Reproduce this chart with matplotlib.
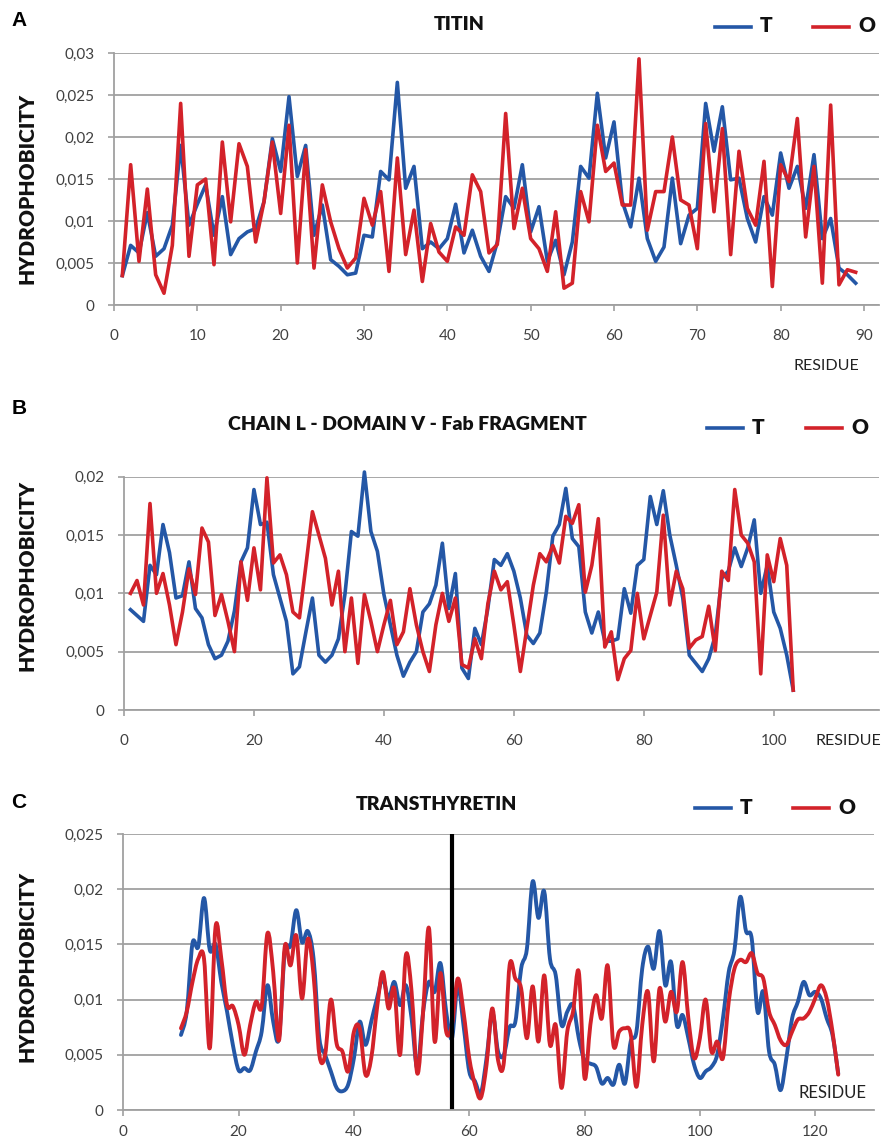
import matplotlib
matplotlib.use('Agg')
import matplotlib.pyplot as plt
import numpy as np
from matplotlib.path import Path
from matplotlib.patches import PathPatch
from matplotlib.lines import Line2D

W, H = 893, 1145
BLUE = '#2457a6'
RED = '#d3222a'
GRID = '#a0a0a0'
TXT = '#404040'
FONT = ['Lato', 'DejaVu Sans']

# ---- A: TITIN (residues 1..89)
titin_res = np.arange(1, 90)
titin_t = [0.0035, 0.0071, 0.0062, 0.0110, 0.0058, 0.0067, 0.0095, 0.0190, 0.0095, 0.0120,
           0.0143, 0.0083, 0.0129, 0.0060, 0.0079, 0.0087, 0.0091, 0.0123, 0.0198, 0.0159,
           0.0248, 0.0153, 0.0190, 0.0083, 0.0119, 0.0054, 0.0046, 0.0036, 0.0038, 0.0083,
           0.0081, 0.0159, 0.0149, 0.0265, 0.0139, 0.0165, 0.0067, 0.0075, 0.0067, 0.0079,
           0.0120, 0.0062, 0.0089, 0.0058, 0.0040, 0.0075, 0.0129, 0.0115, 0.0167, 0.0087,
           0.0117, 0.0052, 0.0077, 0.0036, 0.0075, 0.0165, 0.0151, 0.0252, 0.0175, 0.0218,
           0.0123, 0.0093, 0.0151, 0.0079, 0.0052, 0.0069, 0.0151, 0.0073, 0.0107, 0.0115,
           0.0240, 0.0183, 0.0236, 0.0149, 0.0151, 0.0103, 0.0075, 0.0129, 0.0107, 0.0181,
           0.0139, 0.0165, 0.0115, 0.0179, 0.0079, 0.0103, 0.0044, 0.0036, 0.0026]
titin_o = [0.0035, 0.0167, 0.0052, 0.0138, 0.0036, 0.0014, 0.0071, 0.0240, 0.0058, 0.0143,
           0.0150, 0.0048, 0.0194, 0.0099, 0.0192, 0.0165, 0.0075, 0.0123, 0.0194, 0.0109,
           0.0214, 0.0050, 0.0185, 0.0044, 0.0143, 0.0099, 0.0067, 0.0044, 0.0056, 0.0127,
           0.0095, 0.0135, 0.0040, 0.0175, 0.0060, 0.0113, 0.0028, 0.0097, 0.0063, 0.0052,
           0.0093, 0.0083, 0.0155, 0.0135, 0.0062, 0.0072, 0.0228, 0.0091, 0.0139, 0.0079,
           0.0067, 0.0040, 0.0111, 0.0020, 0.0026, 0.0135, 0.0099, 0.0214, 0.0159, 0.0169,
           0.0119, 0.0119, 0.0293, 0.0089, 0.0135, 0.0135, 0.0200, 0.0125, 0.0119, 0.0067,
           0.0216, 0.0111, 0.0210, 0.0060, 0.0183, 0.0115, 0.0095, 0.0171, 0.0022, 0.0167,
           0.0147, 0.0222, 0.0081, 0.0165, 0.0026, 0.0238, 0.0024, 0.0042, 0.0039]

# ---- B: CHAIN L - DOMAIN V - Fab FRAGMENT (residues 1..103)
fab_res = np.arange(1, 104)
fab_t = [0.0086, 0.0081, 0.0076, 0.0124, 0.0116, 0.0159, 0.0135, 0.0096, 0.0098, 0.0127,
         0.0087, 0.0079, 0.0056, 0.0044, 0.0047, 0.0059, 0.0085, 0.0127, 0.0139, 0.0189,
         0.0159, 0.0161, 0.0116, 0.0096, 0.0076, 0.0031, 0.0037, 0.0067, 0.0096, 0.0047,
         0.0041, 0.0047, 0.0061, 0.0099, 0.0153, 0.0149, 0.0204, 0.0153, 0.0136, 0.0099,
         0.0073, 0.0047, 0.0029, 0.0041, 0.0050, 0.0084, 0.0091, 0.0107, 0.0143, 0.0087,
         0.0117, 0.0036, 0.0027, 0.0070, 0.0056, 0.0087, 0.0129, 0.0124, 0.0134, 0.0119,
         0.0096, 0.0064, 0.0057, 0.0066, 0.0101, 0.0149, 0.0159, 0.0190, 0.0147, 0.0140,
         0.0084, 0.0066, 0.0084, 0.0059, 0.0059, 0.0061, 0.0104, 0.0083, 0.0124, 0.0129,
         0.0183, 0.0159, 0.0188, 0.0150, 0.0124, 0.0096, 0.0047, 0.0040, 0.0033, 0.0044,
         0.0064, 0.0113, 0.0119, 0.0139, 0.0123, 0.0139, 0.0163, 0.0100, 0.0124, 0.0084,
         0.0070, 0.0047, 0.0017]
fab_o = [0.0100, 0.0111, 0.0090, 0.0177, 0.0100, 0.0117, 0.0090, 0.0056, 0.0084, 0.0121,
         0.0099, 0.0156, 0.0144, 0.0081, 0.0099, 0.0076, 0.0050, 0.0127, 0.0094, 0.0139,
         0.0103, 0.0199, 0.0126, 0.0133, 0.0116, 0.0084, 0.0079, 0.0124, 0.0170, 0.0150,
         0.0130, 0.0090, 0.0119, 0.0050, 0.0096, 0.0040, 0.0099, 0.0076, 0.0050, 0.0073,
         0.0094, 0.0056, 0.0067, 0.0104, 0.0073, 0.0050, 0.0033, 0.0073, 0.0100, 0.0076,
         0.0096, 0.0039, 0.0036, 0.0061, 0.0044, 0.0091, 0.0119, 0.0103, 0.0110, 0.0073,
         0.0033, 0.0070, 0.0107, 0.0134, 0.0127, 0.0141, 0.0126, 0.0166, 0.0160, 0.0176,
         0.0101, 0.0124, 0.0164, 0.0054, 0.0067, 0.0026, 0.0044, 0.0051, 0.0100, 0.0061,
         0.0081, 0.0101, 0.0167, 0.0090, 0.0119, 0.0104, 0.0053, 0.0060, 0.0063, 0.0089,
         0.0051, 0.0119, 0.0111, 0.0189, 0.0150, 0.0143, 0.0127, 0.0031, 0.0133, 0.0110,
         0.0147, 0.0124, 0.0017]

# ---- C: TRANSTHYRETIN (residues 10..124)
ttr_res = np.arange(10, 125)
ttr_t = [0.0068, 0.0089, 0.0151, 0.0148, 0.0192, 0.0145, 0.0150, 0.0116, 0.0089, 0.0059,
         0.0036, 0.0038, 0.0036, 0.0053, 0.0071, 0.0113, 0.0080, 0.0065, 0.0143, 0.0149,
         0.0181, 0.0152, 0.0162, 0.0137, 0.0065, 0.0050, 0.0035, 0.0020, 0.0017, 0.0023,
         0.0047, 0.0080, 0.0059, 0.0080, 0.0101, 0.0119, 0.0101, 0.0116, 0.0095, 0.0113,
         0.0083, 0.0038, 0.0089, 0.0116, 0.0107, 0.0133, 0.0089, 0.0065, 0.0113, 0.0077,
         0.0035, 0.0026, 0.0015, 0.0047, 0.0088, 0.0053, 0.0050, 0.0075, 0.0080, 0.0128,
         0.0146, 0.0207, 0.0174, 0.0198, 0.0137, 0.0122, 0.0077, 0.0089, 0.0095, 0.0065,
         0.0045, 0.0042, 0.0039, 0.0024, 0.0029, 0.0023, 0.0041, 0.0024, 0.0062, 0.0071,
         0.0128, 0.0148, 0.0128, 0.0162, 0.0113, 0.0134, 0.0077, 0.0086, 0.0065, 0.0041,
         0.0029, 0.0035, 0.0039, 0.0050, 0.0083, 0.0125, 0.0145, 0.0193, 0.0162, 0.0155,
         0.0089, 0.0107, 0.0053, 0.0041, 0.0018, 0.0047, 0.0083, 0.0098, 0.0116, 0.0104,
         0.0107, 0.0101, 0.0083, 0.0068, 0.0033]
ttr_o = [0.0074, 0.0089, 0.0116, 0.0137, 0.0137, 0.0056, 0.0166, 0.0137, 0.0095, 0.0094,
         0.0077, 0.0050, 0.0077, 0.0098, 0.0094, 0.0160, 0.0125, 0.0063, 0.0148, 0.0131,
         0.0158, 0.0101, 0.0155, 0.0122, 0.0050, 0.0050, 0.0100, 0.0060, 0.0053, 0.0035,
         0.0071, 0.0074, 0.0032, 0.0047, 0.0092, 0.0125, 0.0092, 0.0110, 0.0050, 0.0140,
         0.0107, 0.0033, 0.0089, 0.0165, 0.0062, 0.0124, 0.0071, 0.0077, 0.0119, 0.0089,
         0.0047, 0.0023, 0.0011, 0.0041, 0.0092, 0.0045, 0.0043, 0.0131, 0.0119, 0.0110,
         0.0065, 0.0112, 0.0062, 0.0122, 0.0059, 0.0077, 0.0020, 0.0071, 0.0089, 0.0125,
         0.0029, 0.0077, 0.0104, 0.0083, 0.0131, 0.0059, 0.0071, 0.0074, 0.0069, 0.0021,
         0.0077, 0.0107, 0.0044, 0.0110, 0.0080, 0.0107, 0.0089, 0.0134, 0.0083, 0.0047,
         0.0065, 0.0100, 0.0053, 0.0062, 0.0047, 0.0098, 0.0128, 0.0136, 0.0134, 0.0142,
         0.0124, 0.0119, 0.0089, 0.0077, 0.0063, 0.0059, 0.0071, 0.0082, 0.0083, 0.0089,
         0.0101, 0.0113, 0.0101, 0.0071, 0.0032]
ttr_marker = 57


def fx(x):
    return x / W


def fy(y):
    return 1 - y / H


def smooth_path(x, y):
    # excel style smoothed line: catmull-rom turned into cubic bezier segments
    x = np.asarray(x, float)
    y = np.asarray(y, float)
    px = np.concatenate([[x[0]], x, [x[-1]]])
    py = np.concatenate([[y[0]], y, [y[-1]]])
    verts = [(x[0], y[0])]
    codes = [Path.MOVETO]
    for i in range(1, len(px) - 2):
        c1 = (px[i] + (px[i + 1] - px[i - 1]) / 6, py[i] + (py[i + 1] - py[i - 1]) / 6)
        c2 = (px[i + 1] - (px[i + 2] - px[i]) / 6, py[i + 1] - (py[i + 2] - py[i]) / 6)
        verts += [c1, c2, (px[i + 1], py[i + 1])]
        codes += [Path.CURVE4] * 3
    return Path(verts, codes)


def comma_fmt(v, pos=None):
    if abs(v) < 1e-12:
        return '0'
    return f'{v:g}'.replace('.', ',')


def setup_axes(rect, xmax, xticks, ymax, xpad=13):
    ax = fig.add_axes(rect)
    ax.set_xlim(0, xmax)
    ax.set_ylim(0, ymax)
    ax.set_xticks(xticks)
    ax.set_yticks(np.arange(0, ymax + 1e-9, 0.005))
    ax.yaxis.set_major_formatter(plt.FuncFormatter(comma_fmt))
    ax.grid(True, axis='y', color=GRID, lw=1.3)
    ax.set_axisbelow(True)
    for s in ['top', 'right']:
        ax.spines[s].set_visible(False)
    for s in ['left', 'bottom']:
        ax.spines[s].set_color(GRID)
        ax.spines[s].set_linewidth(1.3)
    ax.tick_params(axis='y', length=4, width=1.2, color=GRID, pad=10,
                   labelsize=11, labelcolor=TXT)
    ax.tick_params(axis='x', length=4, width=1.2, color=GRID, pad=xpad,
                   labelsize=11, labelcolor=TXT)
    for lab in ax.get_xticklabels() + ax.get_yticklabels():
        lab.set_family(FONT)
    return ax


def legend_and_labels(letter, lpos, title, tpos, leg_y, t_x0, o_x0, ylab_y):
    fig.text(fx(lpos[0]), fy(lpos[1]), letter, fontsize=15, fontweight='bold',
             family=['Liberation Sans', 'DejaVu Sans'], ha='center', va='center')
    fig.text(fx(tpos[0]), fy(tpos[1]), title, fontsize=14, fontweight='heavy',
             family=FONT, ha='center', va='center', color='#111111')
    for x0, col, name in [(t_x0, BLUE, 'T'), (o_x0, RED, 'O')]:
        fig.add_artist(Line2D([fx(x0), fx(x0 + 36)], [fy(leg_y), fy(leg_y)],
                              color=col, lw=2.6, transform=fig.transFigure))
        fig.text(fx(x0 + 45), fy(leg_y - 1), name, fontsize=15, fontweight='heavy',
                 family=FONT, ha='left', va='center', color='#111111')
    fig.text(fx(27), fy(ylab_y), 'HYDROPHOBICITY', rotation=90, fontsize=15,
             fontweight='heavy', family=FONT, ha='center', va='center', color='#111111')


fig = plt.figure(figsize=(W / 100, H / 100), dpi=100)

# panel A
axA = setup_axes([fx(114), fy(305), (879 - 114) / W, (305 - 53) / H], 91.8,
                 np.arange(0, 91, 10), 0.03)
axA.plot(titin_res, titin_t, color=BLUE, lw=2.6, clip_on=False)
axA.plot(titin_res, titin_o, color=RED, lw=2.6, clip_on=False)
fig.text(fx(826), fy(366), 'RESIDUE', fontsize=11.5, family=FONT, ha='center',
         va='center', color='#222222')
legend_and_labels('A', (19, 20), 'TITIN', (459, 24), 27, 715, 813, 188)

# panel B
axB = setup_axes([fx(124), fy(710), (879 - 124) / W, (710 - 476.7) / H], 116.2,
                 np.arange(0, 101, 20), 0.02)
axB.plot(fab_res, fab_t, color=BLUE, lw=2.6, clip_on=False)
axB.plot(fab_res, fab_o, color=RED, lw=2.6, clip_on=False)
fig.text(fx(848), fy(741), 'RESIDUE', fontsize=11.5, family=FONT, ha='center',
         va='center', color='#222222')
legend_and_labels('B', (19, 408), 'CHAIN L - DOMAIN V - Fab FRAGMENT', (407, 424),
                  428, 707, 806, 575)

# panel C
axC = setup_axes([fx(123.3), fy(1110), (874 - 123.3) / W, (1110 - 834) / H], 130.2,
                 np.arange(0, 121, 20), 0.025, xpad=7)
axC.add_patch(PathPatch(smooth_path(ttr_res, ttr_t), fill=False, edgecolor=BLUE,
                        lw=2.8, capstyle='round', joinstyle='round'))
axC.add_patch(PathPatch(smooth_path(ttr_res, ttr_o), fill=False, edgecolor=RED,
                        lw=2.8, capstyle='round', joinstyle='round'))
axC.axvline(ttr_marker, color='black', lw=3)
axC.text(0.99, 0.06, 'RESIDUE', transform=axC.transAxes, fontsize=12, family=FONT,
         ha='right', va='center', color='#222222')
legend_and_labels('C', (19, 802), 'TRANSTHYRETIN', (436, 805), 808, 695, 793, 966)

fig.savefig('out.png', dpi=100, facecolor='white')
